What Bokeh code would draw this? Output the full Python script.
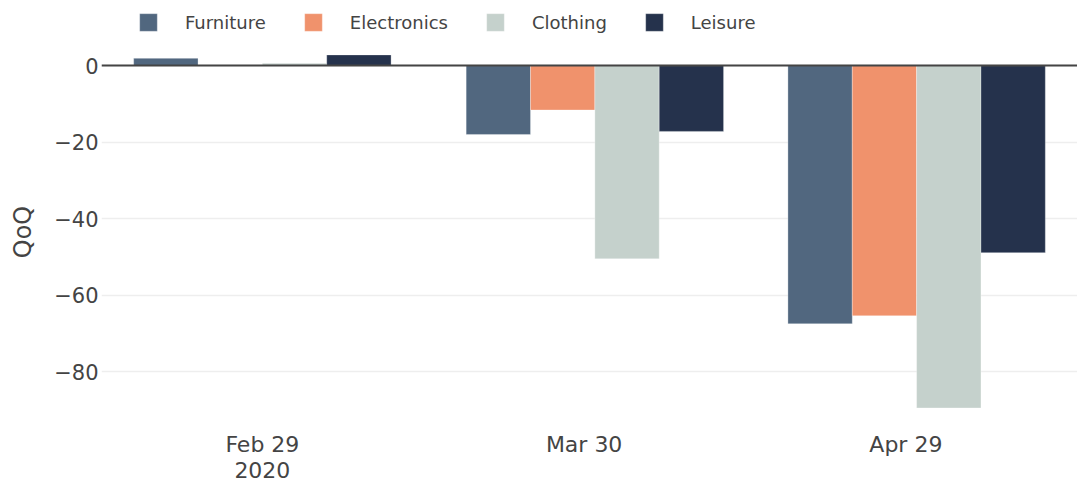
import pandas as pd
from bokeh.plotting import figure
from bokeh.layouts import column
from bokeh.models import (Range1d, FixedTicker, Span, Legend, LegendItem, ColumnDataSource)
from bokeh.transform import dodge
from bokeh.embed import file_html
from bokeh.resources import INLINE

# ---- data ----
dates = ["2020-02-29", "2020-03-31", "2020-04-30"]
furniture = [1.9, -18.0, -67.5]
electronics = [0.0, -11.6, -65.4]
clothing = [0.6, -50.5, -89.5]
leisure = [2.8, -17.2, -48.9]
series = ["Furniture", "Electronics", "Clothing", "Leisure"]
colors = ["#51677F", "#F0926C", "#C5D1CC", "#25324C"]
tick_dates = ["2020-02-29", "2020-03-30", "2020-04-29"]
x_labels = ["Feb 29\n2020", "Mar 30", "Apr 29"]
x_start, x_end = "2020-02-14", "2020-05-15"
y_ticks = [-80, -60, -40, -20, 0]

FONT = "DejaVu Sans"
TXT = "#444444"
DAY = 86400000


def ms(s):
    return float(pd.Timestamp(s).value // 10**6)


source = ColumnDataSource(dict(date=[ms(d) for d in dates], Furniture=furniture,
                               Electronics=electronics, Clothing=clothing, Leisure=leisure))
tick_ms = [ms(d) for d in tick_dates]

# ---- legend strip (own small figure above the chart) ----
leg = figure(width=1077, height=46, x_range=Range1d(0, 1), y_range=Range1d(0, 1),
             output_backend="svg", toolbar_location=None,
             x_axis_location=None, y_axis_location=None, min_border=0)
leg.outline_line_color = None
leg.grid.visible = False
leg.background_fill_color = "white"
leg.border_fill_color = "white"
items = []
for name, col in zip(series, colors):
    r = leg.vbar(x="date", top=name, width=1, source=source, fill_color=col,
                 line_color="white", line_width=0.5, line_alpha=0.6)
    items.append(LegendItem(label=name, renderers=[r]))
legend = Legend(items=items, orientation="horizontal", location=(36, 13),
                glyph_width=22, glyph_height=22, label_standoff=26, spacing=36,
                padding=0, margin=0, border_line_color=None, background_fill_alpha=0,
                label_text_font=FONT, label_text_font_size="18px", label_text_color=TXT)
leg.add_layout(legend)

# ---- main chart ----
p = figure(width=1077, height=439, x_axis_type="datetime",
           x_range=Range1d(ms(x_start), ms(x_end)),
           y_range=Range1d(-92, 5),
           output_backend="svg", toolbar_location=None,
           min_border_left=101, min_border_right=0, min_border_top=0, min_border_bottom=68)
p.outline_line_color = None
p.background_fill_color = "white"
p.border_fill_color = "white"

p.add_layout(Span(location=0, dimension="width", line_color="#444444", line_width=2))

bar_w = 6 * DAY
offsets = [-9, -3, 3, 9]
for name, col, off in zip(series, colors, offsets):
    p.vbar(x=dodge("date", off * DAY), top=name, bottom=0, width=bar_w, source=source,
           fill_color=col, line_color="white", line_width=0.5, line_alpha=0.6)

# x axis
p.xaxis.ticker = FixedTicker(ticks=tick_ms, minor_ticks=[])
p.xaxis.major_label_overrides = dict(zip(tick_ms, x_labels))
p.xaxis.axis_line_color = None
p.xaxis.major_tick_line_color = None
p.xaxis.minor_tick_line_color = None
p.xaxis.major_tick_out = 0
p.xaxis.major_label_standoff = 14
p.xaxis.major_label_text_font = FONT
p.xaxis.major_label_text_font_size = "22px"
p.xaxis.major_label_text_line_height = 1.05
p.xaxis.major_label_text_color = TXT
p.xgrid.visible = False

# y axis
p.yaxis.ticker = FixedTicker(ticks=y_ticks, minor_ticks=[])
p.yaxis.major_label_overrides = {t: str(t).replace("-", "\u2212") for t in y_ticks}
p.yaxis.axis_line_color = None
p.yaxis.major_tick_line_color = None
p.yaxis.minor_tick_line_color = None
p.yaxis.major_tick_out = 0
p.yaxis.major_label_standoff = 3
p.yaxis.major_label_text_font = FONT
p.yaxis.major_label_text_font_size = "21px"
p.yaxis.major_label_text_color = TXT
p.yaxis.axis_label = "QoQ"
p.yaxis.axis_label_text_font = FONT
p.yaxis.axis_label_text_font_size = "24px"
p.yaxis.axis_label_text_font_style = "normal"
p.yaxis.axis_label_text_color = TXT
p.yaxis.axis_label_standoff = 14
p.ygrid.grid_line_color = "#EEEEEE"
p.ygrid.grid_line_width = 1.5

layout = column(leg, p, spacing=0)
open("out.html", "w").write(file_html(layout, INLINE))
